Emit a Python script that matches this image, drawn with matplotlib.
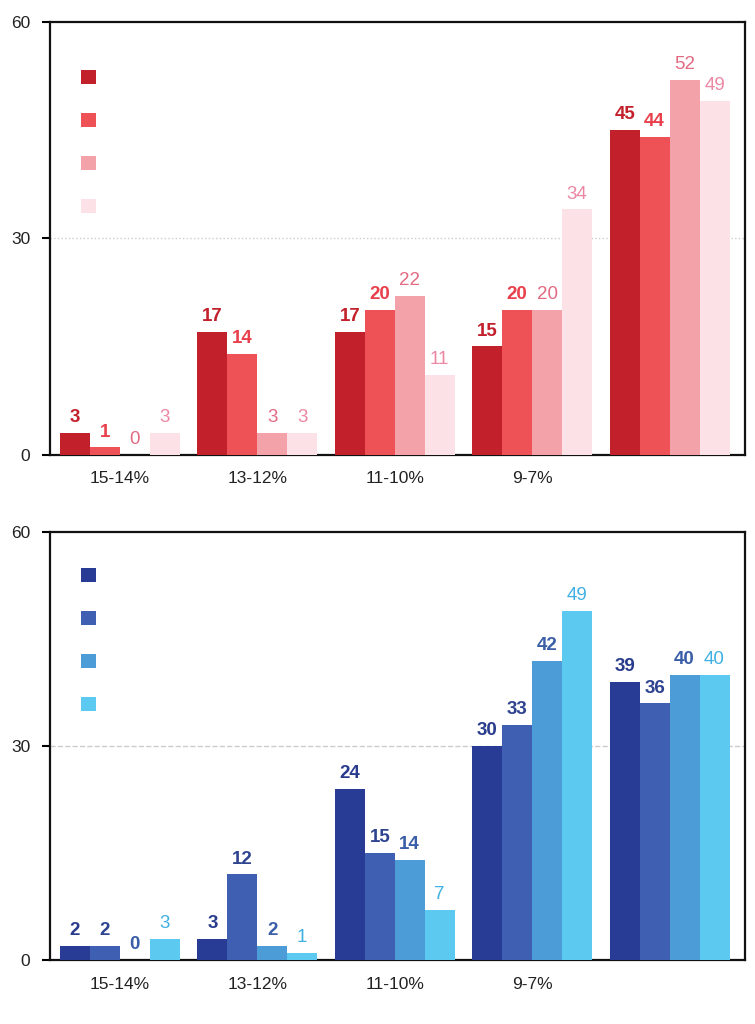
import matplotlib
matplotlib.use("Agg")
import matplotlib.pyplot as plt
from matplotlib.patches import Patch
import numpy as np

categories = ["15-14%", "13-12%", "11-10%", "9-7%", ""]

red_s1 = [3, 17, 17, 15, 45]
red_s2 = [1, 14, 20, 20, 44]
red_s3 = [0, 3, 22, 20, 52]
red_s4 = [3, 3, 11, 34, 49]

blue_s1 = [2, 3, 24, 30, 39]
blue_s2 = [2, 12, 15, 33, 36]
blue_s3 = [0, 2, 14, 42, 40]
blue_s4 = [3, 1, 7, 49, 40]

red_colors = ["#C2202B", "#EE5257", "#F4A2AA", "#FCE2E6"]
red_label_colors = ["#C2202B", "#E8404C", "#E26A82", "#EC86A2"]
red_weights = ["bold", "bold", "normal", "normal"]

blue_colors = ["#283B95", "#3E5FB2", "#4C9CD8", "#5CCAF0"]
blue_label_colors = ["#283B8C", "#2E4490", "#3A5EA8", "#3FB0E2"]
blue_weights = ["bold", "bold", "bold", "normal"]

fig = plt.figure(figsize=(7.55, 10.24), dpi=100)

def draw(rect, series, colors, lcolors, weights, grid_style, leg_anchor):
    ax = fig.add_axes(rect)
    x = np.arange(len(categories))
    w = 0.218
    offsets = (np.arange(4) - 1.5) * w
    handles = []
    for i, vals in enumerate(series):
        bars = ax.bar(x + offsets[i], vals, width=w, color=colors[i], zorder=3)
        for b, v in zip(bars, vals):
            ax.annotate(str(v), (b.get_x() + b.get_width() / 2, v),
                        xytext=(0, 5), textcoords="offset points",
                        ha="center", va="bottom", fontsize=13.5,
                        color=lcolors[i], fontweight=weights[i],
                        fontfamily="Liberation Sans")
        handles.append(Patch(facecolor=colors[i], edgecolor="none"))
    ax.set_xlim(-0.51, 4.55)
    ax.set_ylim(0, 60)
    ax.set_yticks([0, 30, 60])
    ax.set_yticklabels(["0", "30", "60"], fontsize=12.5, fontfamily="Liberation Sans", color="#222222")
    ax.set_xticks(x)
    ax.set_xticklabels(categories, fontsize=12.5, fontfamily="Liberation Sans", color="#222222")
    ax.tick_params(axis="x", length=0, pad=12)
    ax.tick_params(axis="y", length=6, width=1.5, direction="out", pad=8)
    for s in ax.spines.values():
        s.set_linewidth(1.6)
        s.set_color("#111111")
    ax.axhline(30, color="#CCCCCC", linestyle=grid_style, linewidth=1.0, zorder=1)
    ax.legend(handles, ["", "", "", ""], loc="upper left",
              bbox_to_anchor=leg_anchor, frameon=False,
              handlelength=0.9, handleheight=0.9, labelspacing=1.5,
              handletextpad=0.2, fontsize=12, borderpad=0, borderaxespad=0)
    return ax

draw([0.066, 0.556, 0.921, 0.4225],
     [red_s1, red_s2, red_s3, red_s4], red_colors, red_label_colors, red_weights, ":",
     (0.045, 0.892))
draw([0.066, 0.0625, 0.921, 0.4175],
     [blue_s1, blue_s2, blue_s3, blue_s4], blue_colors, blue_label_colors, blue_weights, "--",
     (0.045, 0.92))

fig.savefig("out.png", dpi=100, facecolor="white")
